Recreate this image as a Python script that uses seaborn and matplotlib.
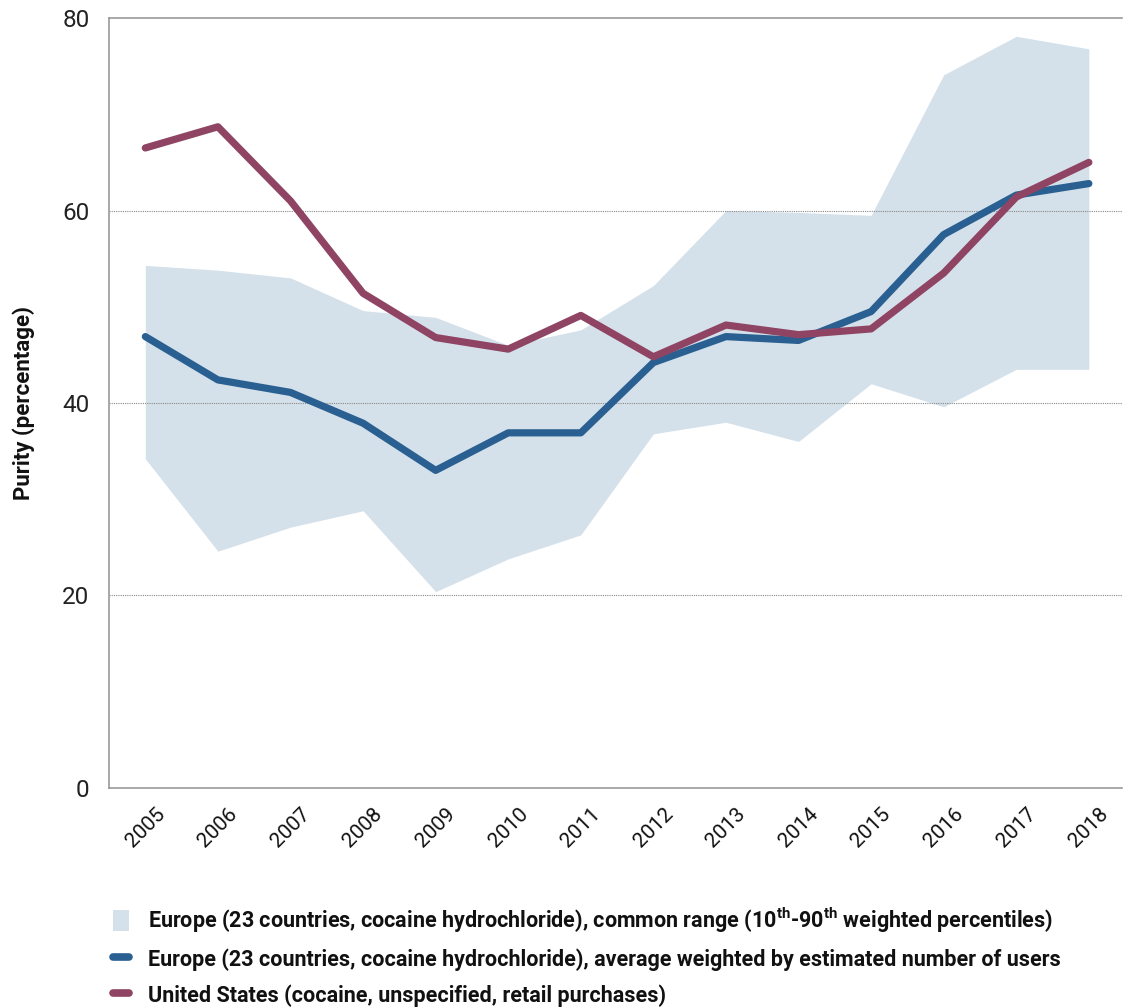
import numpy as np
import pandas as pd
import matplotlib
matplotlib.use("Agg")
import matplotlib.pyplot as plt
import seaborn as sns
from matplotlib import font_manager
from matplotlib.patches import Patch
from matplotlib.lines import Line2D

years = list(range(2005, 2019))

eu_low = [34.2, 24.6, 27.1, 28.8, 20.4, 23.8, 26.3, 36.8, 38.0, 36.0, 42.0, 39.6, 43.5, 43.5]
eu_high = [54.3, 53.8, 53.0, 49.6, 48.9, 46.0, 47.6, 52.2, 60.0, 59.8, 59.5, 74.1, 78.1, 76.8]
eu_avg = [46.9, 42.4, 41.1, 37.9, 33.0, 36.9, 36.9, 44.2, 46.9, 46.5, 49.5, 57.5, 61.6, 62.8]
us = [66.5, 68.7, 61.0, 51.4, 46.8, 45.6, 49.1, 44.8, 48.1, 47.1, 47.7, 53.5, 61.4, 65.0]

labels = [
    r"Europe (23 countries, cocaine hydrochloride), common range (10$^{\mathregular{th}}$-90$^{\mathregular{th}}$ weighted percentiles)",
    "Europe (23 countries, cocaine hydrochloride), average weighted by estimated number of users",
    "United States (cocaine, unspecified, retail purchases)",
]

band_col = "#d5e1ea"
blue = "#2a5f91"
purple = "#8e4462"

sns.set_theme(style="white")

installed = {f.name for f in font_manager.fontManager.ttflist}
narrow = "Liberation Sans Narrow" if "Liberation Sans Narrow" in installed else "Roboto"
plt.rcParams["font.family"] = [narrow, "DejaVu Sans"]
plt.rcParams["mathtext.fontset"] = "custom"
plt.rcParams["mathtext.rm"] = narrow + ":bold"

df = pd.DataFrame({"year": years, "eu_avg": eu_avg, "us": us})

fig = plt.figure(figsize=(11.23, 10.07), dpi=100)
ax = fig.add_axes([0.0971, 0.2175, 0.9019, 0.7646])

ax.fill_between(years, eu_low, eu_high, color=band_col, linewidth=0, zorder=1)
sns.lineplot(data=df, x="year", y="eu_avg", color=blue, linewidth=5.2, ax=ax,
             solid_capstyle="round", zorder=3)
sns.lineplot(data=df, x="year", y="us", color=purple, linewidth=5.2, ax=ax,
             solid_capstyle="round", zorder=3)

ax.set_xlim(2004.5, 2018.455)
ax.set_ylim(0, 80)
ax.set_yticks([0, 20, 40, 60, 80])
ax.set_xticks(years)
ax.set_xticklabels([str(y) for y in years], rotation=45, fontsize=15, color="#111111")
for y in [20, 40, 60]:
    ax.axhline(y, color="#888888", linestyle=(0, (1, 1)), linewidth=0.8, zorder=2)

ax.tick_params(axis="both", length=0)
ax.tick_params(axis="x", pad=12)
ax.tick_params(axis="y", pad=14)
for lbl in ax.get_yticklabels():
    lbl.set_family(["Roboto", "DejaVu Sans"])
    lbl.set_fontweight("normal")
    lbl.set_fontsize(17.5)
    lbl.set_color("#222222")

ax.set_xlabel("")
ax.set_ylabel("Purity (percentage)", fontsize=16, fontweight="bold", color="#111111")
ax.yaxis.set_label_coords(-0.073, 0.5)

for side in ["left", "top", "bottom"]:
    ax.spines[side].set_color("#9a9a9a")
    ax.spines[side].set_linewidth(1.2)
ax.spines["right"].set_visible(False)

handles = [
    Patch(facecolor=band_col, edgecolor="none"),
    Line2D([0], [0], color=blue, linewidth=5.5, solid_capstyle="round"),
    Line2D([0], [0], color=purple, linewidth=5.5, solid_capstyle="round"),
]
leg = fig.legend(handles, labels, loc="upper left", bbox_to_anchor=(0.083, 0.12),
                 frameon=False, handlelength=0.75, handleheight=1.1, handletextpad=0.9,
                 labelspacing=0.62, prop={"family": narrow, "weight": "bold", "size": 15.5})
for t in leg.get_texts():
    t.set_color("#111111")

fig.savefig("out.png", dpi=100)
